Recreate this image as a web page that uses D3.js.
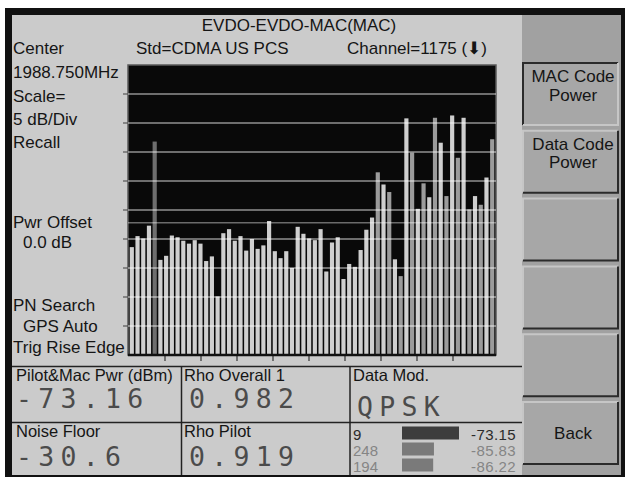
<!DOCTYPE html>
<html>
<head>
<meta charset="utf-8">
<script src="https://cdn.jsdelivr.net/npm/d3@7"></script>
<style>
    body { margin: 0; background: #fff; }
    svg text { font-family: "Liberation Sans", Arial, sans-serif; fill: #151515; }
</style>
</head>
<body>
<svg id="screen" width="625" height="477"></svg>
<script>
    // MAC code power, one bar per Walsh code (dB below top of screen, 5 dB/div)
    var codes = d3.range(64);
    var codePower = [
        -31.4, -29.5, -29.9, -27.7, -13.2, -33.6, -32.9, -29.4, -29.7, -30.3,
        -30.8, -30.2, -30.8, -33.8, -33.0, -39.9, -29.0, -28.3, -30.3, -29.5,
        -32.0, -30.0, -31.7, -31.1, -26.9, -32.1, -33.3, -32.1, -35.0, -27.9,
        -29.1, -29.9, -30.2, -28.3, -35.6, -30.6, -29.7, -36.9, -34.3, -34.8,
        -31.9, -28.4, -26.3, -18.5, -20.6, -21.9, -33.5, -36.4, -9.2, -15.1,
        -24.8, -20.4, -22.8, -9.1, -13.4, -22.6, -8.7, -16.0, -9.1, -24.9,
        -22.6, -24.1, -19.4, -12.8
    ];
    var idleCodes = [4];
    var dataCodes = [43, 45, 47, 49, 51, 53, 55, 57, 59, 61, 63];
    var threshold = -27.2;
    var dbTicks = [-5, -10, -15, -20, -25, -30, -35, -40, -45];
    var divTicks = [1, 2, 3, 4, 5, 6, 7, 8, 9];

    // bottom panel readouts
    var pnList = [9, 248, 194];
    var pnPower = [-73.15, -85.83, -86.22];
    var softkeys = [["MAC Code", "Power"], ["Data Code", "Power"], [], [], [], ["Back"]];

    var svg = d3.select("#screen");

    // bezel and screen
    svg.append("rect").attr("x", 5).attr("y", 8).attr("width", 620).attr("height", 469).attr("fill", "#111");
    svg.append("rect").attr("x", 12).attr("y", 15).attr("width", 510).attr("height", 460).attr("fill", "#cbcbcb");
    svg.append("rect").attr("x", 522).attr("y", 15).attr("width", 99).attr("height", 460).attr("fill", "#a1a1a1");

    // header text
    svg.append("text").attr("x", 299).attr("y", 31).attr("text-anchor", "middle").style("font-size", "17px").text("EVDO-EVDO-MAC(MAC)");
    svg.append("text").attr("x", 13).attr("y", 54).style("font-size", "17px").text("Center");
    svg.append("text").attr("x", 136).attr("y", 54).style("font-size", "17px").text("Std=CDMA US PCS");
    svg.append("text").attr("x", 347).attr("y", 54).style("font-size", "17px").text("Channel=1175 (\u2B07)");

    // left side annotations
    var side = [["1988.750MHz", 13, 78], ["Scale=", 13, 101.5], ["5 dB/Div", 13, 125], ["Recall", 13, 148],
                ["Pwr Offset", 13, 228], ["0.0 dB", 23, 248], ["PN Search", 13, 311], ["GPS Auto", 23, 332], ["Trig Rise Edge", 13, 353]];
    svg.append("g").selectAll("text").data(side).enter().append("text")
        .attr("x", function(d) { return d[1]; }).attr("y", function(d) { return d[2]; })
        .style("font-size", "17px").text(function(d) { return d[0]; });

    // code domain power plot
    var plot = {left: 128, top: 65, right: 496, bottom: 355};
    var x = d3.scaleBand().domain(codes).range([plot.left, plot.right]).paddingInner(0.27).paddingOuter(0.3);
    var y = d3.scaleLinear().domain([-50, 0]).range([plot.bottom, plot.top]);
    var xDiv = d3.scaleLinear().domain([0, 10]).range([plot.left + 1, plot.left + 361]);

    svg.append("rect").attr("x", plot.left).attr("y", plot.top).attr("width", plot.right - plot.left)
        .attr("height", plot.bottom - plot.top).attr("fill", "#090909").attr("stroke", "#5a5a5a").attr("stroke-width", 1.5);

    svg.append("g").selectAll("rect").data(codes).enter().append("rect")
        .attr("x", function(d) { return x(d); })
        .attr("y", function(d) { return y(codePower[d]); })
        .attr("width", x.bandwidth())
        .attr("height", function(d) { return plot.bottom - y(codePower[d]); })
        .attr("fill", function(d) {
            if (idleCodes.indexOf(d) >= 0) return "#6e6e6e";
            if (dataCodes.indexOf(d) >= 0) return "#9b9b9b";
            return "#cfcfcf";
        });

    // graticule drawn over the bars
    svg.append("g").selectAll("line").data(dbTicks).enter().append("line")
        .attr("x1", plot.left).attr("x2", plot.right)
        .attr("y1", function(d) { return y(d); }).attr("y2", function(d) { return y(d); })
        .attr("stroke", "#fff").attr("stroke-opacity", 0.55).attr("stroke-width", 1.6);
    svg.append("line").attr("x1", plot.left).attr("x2", plot.right).attr("y1", y(threshold)).attr("y2", y(threshold))
        .attr("stroke", "#fff").attr("stroke-opacity", 0.4).attr("stroke-width", 1.5);

    svg.append("g").selectAll("line").data(dbTicks).enter().append("line")
        .attr("x1", plot.left - 5).attr("x2", plot.left)
        .attr("y1", function(d) { return y(d); }).attr("y2", function(d) { return y(d); })
        .attr("stroke", "#555").attr("stroke-width", 1.2);
    svg.append("g").selectAll("line").data(divTicks).enter().append("line")
        .attr("x1", function(d) { return xDiv(d); }).attr("x2", function(d) { return xDiv(d); })
        .attr("y1", plot.bottom).attr("y2", plot.bottom + 6)
        .attr("stroke", "#333").attr("stroke-width", 1.2);
    svg.append("line").attr("x1", plot.left).attr("x2", plot.right).attr("y1", plot.bottom).attr("y2", plot.bottom)
        .attr("stroke", "#111").attr("stroke-width", 2.5);

    // measurement table
    var grid = svg.append("g").attr("stroke", "#222").attr("stroke-width", 1.5);
    grid.append("line").attr("x1", 12).attr("x2", 522).attr("y1", 366.5).attr("y2", 366.5);
    grid.append("line").attr("x1", 12).attr("x2", 522).attr("y1", 422.5).attr("y2", 422.5);
    grid.append("line").attr("x1", 181.5).attr("x2", 181.5).attr("y1", 366.5).attr("y2", 475);
    grid.append("line").attr("x1", 350).attr("x2", 350).attr("y1", 366.5).attr("y2", 475);

    var cells = [["Pilot&Mac Pwr (dBm)", 16, 381], ["Rho Overall 1", 184, 381], ["Data Mod.", 353, 381],
                 ["Noise Floor", 16, 437], ["Rho Pilot", 184, 437]];
    svg.append("g").selectAll("text").data(cells).enter().append("text")
        .attr("x", function(d) { return d[1]; }).attr("y", function(d) { return d[2]; })
        .style("font-size", "16.5px").text(function(d) { return d[0]; });

    var readouts = [["-73.16", 16, 408], ["0.982", 189, 408], ["QPSK", 357, 416], ["-30.6", 16, 466], ["0.919", 189, 466]];
    svg.append("g").selectAll("text").data(readouts).enter().append("text")
        .attr("x", function(d) { return d[1]; }).attr("y", function(d) { return d[2]; })
        .style("font-family", "'DejaVu Sans Mono', monospace").style("font-size", "26.5px")
        .style("letter-spacing", "6.3px").style("fill", "#4b4b4b").text(function(d) { return d[0]; });

    // strongest PN offsets
    var w = d3.scaleLinear().domain([-102, -73.15]).range([0, 57]);
    var rowY = d3.scaleLinear().domain([0, 1]).range([439.5, 455.5]);
    var pn = svg.append("g").selectAll("g").data(pnPower).enter().append("g");
    pn.append("rect").attr("x", 402).attr("y", function(d, i) { return rowY(i) - 13; })
        .attr("width", function(d) { return w(d); }).attr("height", 13)
        .attr("fill", function(d, i) { return i === 0 ? "#3d3d3d" : "#7a7a7a"; });
    pn.append("text").attr("x", 353).attr("y", function(d, i) { return rowY(i); })
        .style("font-size", "15px").style("fill", function(d, i) { return i === 0 ? "#2a2a2a" : "#858585"; })
        .text(function(d, i) { return pnList[i]; });
    pn.append("text").attr("x", 516).attr("y", function(d, i) { return rowY(i); }).attr("text-anchor", "end")
        .style("font-size", "15px").style("letter-spacing", "0.4px")
        .style("fill", function(d, i) { return i === 0 ? "#2a2a2a" : "#858585"; })
        .text(function(d) { return d.toFixed(2); });

    // softkeys
    var keys = svg.append("g").selectAll("g").data(softkeys).enter().append("g")
        .attr("transform", function(d, i) { return "translate(523," + (63 + i * 67.8) + ")"; });
    keys.append("rect").attr("width", 95).attr("height", 62).attr("fill", "#a7a7a7");
    keys.append("path").attr("d", "M0,62 V0 H95").attr("fill", "none").attr("stroke-width", 2)
        .attr("stroke", function(d, i) { return i === 0 ? "#2b2b2b" : "#c6c6c6"; });
    keys.append("path").attr("d", "M0,62 H95 V0").attr("fill", "none").attr("stroke-width", 2)
        .attr("stroke", function(d, i) { return i === 0 ? "#c6c6c6" : "#2b2b2b"; });
    keys.each(function(d) {
        var g = d3.select(this);
        var top = d.length === 1 ? 37 : 19;
        d.forEach(function(t, j) {
            g.append("text").attr("x", 50).attr("y", top + j * 18.5).attr("text-anchor", "middle")
                .style("font-size", "17px").text(t);
        });
    });
</script>
</body>
</html>
